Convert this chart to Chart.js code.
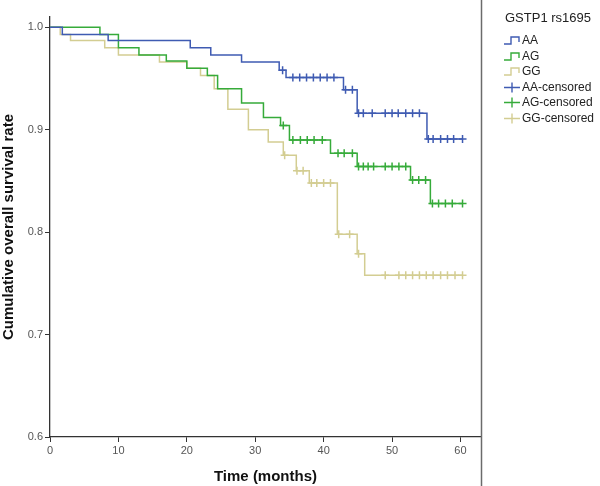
<!DOCTYPE html>
<html><head><meta charset="utf-8">
<script src="https://cdn.jsdelivr.net/npm/chart.js@4"></script>
<style>
html,body{margin:0;padding:0;background:#fff;}
#wrap{position:relative;width:600px;height:486px;overflow:hidden;}
#c{position:absolute;left:0;top:0;}
#legend{position:absolute;left:0;top:0;width:600px;height:486px;pointer-events:none;font-family:"Liberation Sans",Arial,sans-serif;color:#222;}
.lt{position:absolute;left:505px;top:10px;font-size:13px;line-height:16px;white-space:nowrap;}
.li{position:absolute;left:503px;height:14px;font-size:12px;line-height:14px;white-space:nowrap;}
.li svg{position:absolute;left:0;top:0;}
.li span{position:absolute;left:19px;top:0;}
</style></head><body>
<div id="wrap"><canvas id="c" width="600" height="486"></canvas><div id="legend"></div></div>
<script>
// ---- data ----
const timeTicks = [0, 10, 20, 30, 40, 50, 60];
const survivalTicks = [0.6, 0.7, 0.8, 0.9, 1.0];
const legendTitle = 'GSTP1 rs1695';
const groupNames = ['AA', 'AG', 'GG'];
const groupColors = ['#3f5bb2', '#36ab3a', '#d3cd92'];

const aaTimes = [0, 1.8, 8.5, 20.5, 23.5, 28, 33.5, 34.5, 42.9, 44.9, 55.1];
const aaSurv  = [1.0, 0.993, 0.987, 0.980, 0.973, 0.966, 0.958, 0.951, 0.939, 0.916, 0.891];
const aaCensored = [34, 35.5, 36.5, 37.5, 38.5, 39.5, 40.5, 41.5, 43.2, 44.2, 45.1, 45.8, 47.1, 49, 50, 50.9, 52, 53, 54, 55.3, 56, 57.1, 58.1, 59, 60.3];

const agTimes = [0, 7.3, 10, 13, 17, 20, 23, 24.5, 28, 31.2, 33.7, 35, 41, 44.9, 52.7, 55.6];
const agSurv  = [1.0, 0.993, 0.980, 0.973, 0.967, 0.960, 0.953, 0.940, 0.926, 0.912, 0.904, 0.890, 0.877, 0.864, 0.851, 0.828];
const agCensored = [34.1, 35.5, 36.6, 37.6, 38.6, 39.8, 42.1, 43, 44.2, 45.1, 45.8, 46.5, 47.3, 49, 50, 51, 52, 53, 53.9, 54.9, 55.9, 56.8, 57.8, 58.8, 60.3];

const ggTimes = [0, 1.5, 3, 8, 10, 16, 20, 22, 24, 26, 29, 31.9, 34.1, 36, 37.9, 42, 44.9, 46];
const ggSurv  = [1.0, 0.993, 0.987, 0.980, 0.973, 0.966, 0.960, 0.953, 0.940, 0.920, 0.900, 0.888, 0.875, 0.860, 0.848, 0.798, 0.779, 0.758];
const ggCensored = [34.3, 36.1, 37, 38.2, 39, 40, 41, 42.2, 43.8, 45.1, 49, 51, 52, 53, 54, 55, 56, 57.1, 58.1, 59.2, 60.3];

// ---- helpers ----
function survAt(times, surv, t) {
  let v = surv[0];
  for (let i = 0; i < times.length; i++) if (times[i] <= t) v = surv[i];
  return v;
}
function curve(times, surv, cens) {
  const pts = times.map((t, i) => ({x: t, y: surv[i]}));
  const end = Math.max(...cens, times[times.length - 1]);
  pts.push({x: end, y: surv[surv.length - 1]});
  return pts;
}
function marks(times, surv, cens) {
  return cens.map(t => ({x: t, y: survAt(times, surv, t)}));
}

const series = [
  [aaTimes, aaSurv, aaCensored],
  [agTimes, agSurv, agCensored],
  [ggTimes, ggSurv, ggCensored]
];

const datasets = [];
series.forEach((s, i) => {
  datasets.push({
    label: groupNames[i], data: curve(s[0], s[1], s[2]),
    stepped: 'before', borderColor: groupColors[i], borderWidth: 1.5,
    pointRadius: 0, fill: false, showLine: true
  });
});
series.forEach((s, i) => {
  datasets.push({
    label: groupNames[i] + '-censored', data: marks(s[0], s[1], s[2]),
    showLine: false, pointStyle: 'cross', pointRadius: 4,
    pointBorderWidth: 1.5, borderColor: groupColors[i], backgroundColor: groupColors[i]
  });
});

const framePlugin = {
  id: 'frame',
  afterDraw(chart) {
    const ctx = chart.ctx;
    ctx.save();
    ctx.strokeStyle = '#6b6b6b';
    ctx.lineWidth = 1.5;
    ctx.beginPath();
    ctx.moveTo(481.5, 0);
    ctx.lineTo(481.5, 486);
    ctx.stroke();
    ctx.restore();
  }
};

new Chart(document.getElementById('c'), {
  type: 'line',
  data: {datasets},
  options: {
    responsive: false, animation: false, devicePixelRatio: 1,
    layout: {padding: {top: 17, right: 119, left: 0, bottom: 0}},
    plugins: {legend: {display: false}, tooltip: {enabled: false}},
    scales: {
      x: {
        type: 'linear', min: 0, max: 63,
        afterFit(s) { s.height = 49; },
        afterBuildTicks(s) { s.ticks = timeTicks.map(v => ({value: v})); },
        grid: {display: true, drawOnChartArea: false, drawTicks: true, tickLength: 5, color: '#333', lineWidth: 1},
        border: {display: true, color: '#333', width: 1.3},
        ticks: {color: '#555', padding: 2, maxRotation: 0, font: {family: '"Liberation Sans", Arial, sans-serif', size: 11}, callback: v => String(v)},
        title: {display: true, text: 'Time (months)', color: '#111', padding: {top: 2, bottom: 0}, font: {family: '"Liberation Sans", Arial, sans-serif', size: 15, weight: 'bold'}}
      },
      y: {
        type: 'linear', min: 0.6, max: 1.01,
        afterFit(s) { s.width = 50; },
        afterBuildTicks(s) { s.ticks = survivalTicks.map(v => ({value: v})); },
        grid: {display: true, drawOnChartArea: false, drawTicks: true, tickLength: 5, color: '#333', lineWidth: 1},
        border: {display: true, color: '#333', width: 1.3},
        ticks: {color: '#555', padding: 2, font: {family: '"Liberation Sans", Arial, sans-serif', size: 11}, callback: v => Number(v).toFixed(1)},
        title: {display: true, text: 'Cumulative overall survival rate', color: '#111', padding: {top: 0, bottom: 2}, font: {family: '"Liberation Sans", Arial, sans-serif', size: 15, weight: 'bold'}}
      }
    }
  },
  plugins: [framePlugin]
});

// ---- legend ----
const lg = document.getElementById('legend');
const t = document.createElement('div');
t.className = 'lt'; t.textContent = legendTitle; lg.appendChild(t);
const items = [];
groupNames.forEach((n, i) => items.push({name: n, color: groupColors[i], kind: 'step'}));
groupNames.forEach((n, i) => items.push({name: n + '-censored', color: groupColors[i], kind: 'cross'}));
items.forEach((it, k) => {
  const d = document.createElement('div');
  d.className = 'li';
  d.style.top = (33 + k * 15.6) + 'px';
  const shape = it.kind === 'step'
    ? '<path d="M1 11 H8 V4 H16 V9" fill="none" stroke="' + it.color + '" stroke-width="1.4"/>'
    : '<path d="M1 7.5 H17 M9 2.5 V12.5" fill="none" stroke="' + it.color + '" stroke-width="1.4"/>';
  d.innerHTML = '<svg width="18" height="14">' + shape + '</svg><span>' + it.name + '</span>';
  lg.appendChild(d);
});
</script>
</body></html>
